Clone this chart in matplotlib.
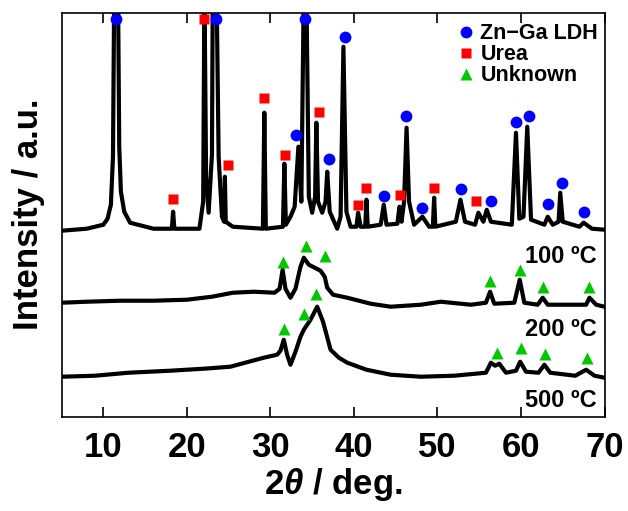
import numpy as np
import matplotlib
matplotlib.use("Agg")
import matplotlib.pyplot as plt

plt.rcParams['font.family'] = ['Liberation Sans', 'DejaVu Sans']
plt.rcParams['font.weight'] = 'bold'
plt.rcParams['mathtext.fontset'] = 'custom'
plt.rcParams['mathtext.it'] = 'Liberation Sans:italic'
plt.rcParams['mathtext.rm'] = 'Liberation Sans:bold'

# XRD patterns (2theta in deg, intensity in a.u. incl. offset)
tt_100 = [5.0, 8.0, 10.0, 10.5, 10.9, 11.15, 11.3, 11.75, 11.9, 12.1, 12.5, 13.2, 16.0, 18.2,
          18.35, 18.5, 21.5, 21.95, 22.1, 22.3, 22.6, 23.0, 23.1, 23.55, 23.8, 24.2, 24.45,
          24.55, 24.65, 25.5, 29.1, 29.27, 29.45, 31.5, 31.67, 31.85, 32.4, 32.9, 33.35, 33.7,
          34.0, 34.3, 34.6, 35.0, 35.35, 35.5, 35.7, 36.2, 36.6, 36.8, 37.1, 38.0, 38.4, 38.74,
          39.1, 39.6, 40.3, 40.5, 40.8, 41.35, 41.5, 41.65, 43.2, 43.57, 43.9, 45.2, 45.45,
          45.7, 46.0, 46.3, 46.6, 47.2, 48.2, 49.0, 49.45, 49.6, 49.75, 52.2, 52.75, 53.3,
          54.5, 54.9, 55.5, 55.9, 56.4, 58.9, 59.4, 59.8, 60.3, 60.75, 61.2, 62.8, 63.2, 63.8,
          64.5, 64.7, 65.0, 67.0, 67.5, 68.5, 70.0]
int_100 = [186, 188, 192, 198, 212, 260, 430, 430, 270, 225, 205, 194, 188, 188,
           205, 188, 188, 215, 430, 240, 204, 262, 430, 430, 260, 200, 195,
           240, 195, 190, 188, 304, 188, 190, 253, 192, 200, 210, 270, 215,
           430, 430, 220, 204, 220, 294, 215, 204, 215, 245, 205, 188, 200, 370,
           205, 190, 190, 204, 190, 190, 217, 190, 192, 212, 192, 193, 210,
           195, 215, 289, 215, 192, 200, 190, 190, 219, 190, 195, 217, 195,
           192, 204, 195, 207, 195, 192, 284, 198, 200, 290, 197, 192, 200, 192,
           195, 224, 195, 190, 194, 188, 187]

tt_200 = [5.0, 8.0, 12.0, 16.0, 20.0, 23.0, 25.5, 28.0, 30.5, 31.1, 31.46, 31.8, 32.4, 33.0,
          33.6, 34.0, 34.6, 35.3, 36.0, 36.5, 36.8, 37.5, 39.2, 42.0, 44.4, 48.0, 50.4, 54.0,
          55.8, 56.3, 56.8, 59.2, 59.85, 60.4, 62.0, 62.6, 63.2, 67.8, 68.2, 69.0, 70.0]
int_200 = [114, 115, 116, 116, 117, 120, 124, 125, 124, 128, 147, 128, 119, 128,
           150, 159, 152, 149, 146, 140, 129, 122, 119, 113, 110, 112, 115, 112,
           114, 125, 113, 114, 137, 114, 112, 119, 112, 112, 119, 112, 110]

tt_500 = [5.0, 9.0, 13.0, 18.0, 22.0, 25.2, 29.2, 30.8, 31.2, 31.6, 32.0, 32.4, 33.0, 33.6,
          34.0, 34.8, 35.6, 36.3, 37.2, 38.2, 39.2, 41.5, 44.4, 48.0, 52.0, 55.8, 56.4, 56.9,
          57.4, 58.2, 59.4, 59.9, 60.6, 62.1, 62.8, 63.5, 66.5, 67.8, 68.8, 70.0]
int_500 = [40, 41, 44, 46, 48, 50, 59, 62, 66, 77, 62, 52, 65, 80,
           87, 97, 110, 95, 67, 59, 54, 47, 42, 40, 41, 44, 54, 51,
           53, 44, 46, 55, 45, 44, 52, 44, 41, 47, 41, 39]

# peak assignments
ldh_x = [11.52, 23.52, 34.1, 33.07, 37.0, 38.87, 43.57, 46.2, 48.2, 52.8, 56.4, 59.4, 60.96,
         63.2, 64.9, 67.6]
ldh_y = [398, 398, 398, 282, 258, 380, 221, 301, 209, 228, 216, 295, 301, 213, 234, 205]
urea_x = [18.36, 22.07, 24.95, 29.27, 31.7, 35.86, 40.5, 41.5, 45.46, 49.6, 54.65]
urea_y = [218, 398, 252, 319, 262, 305, 212, 229, 222, 229, 216]
unk_x = [31.46, 34.27, 36.5, 56.3, 59.85, 62.6, 68.2,
         31.67, 34.06, 35.5, 57.1, 59.97, 62.85, 67.96]
unk_y = [155, 171, 161, 136, 147, 130, 130,
         88, 103, 123, 64, 69, 63, 59]

temps = ['100 ºC', '200 ºC', '500 ºC']

fig = plt.figure(figsize=(6.28, 5.11), dpi=100)
ax = fig.add_axes([0.0981, 0.1845, 0.8645, 0.7906])

for tt, yy in [(tt_100, int_100), (tt_200, int_200), (tt_500, int_500)]:
    ax.plot(tt, yy, color='black', lw=3.0, solid_joinstyle='round')

ax.plot(ldh_x, ldh_y, 'o', color='#0000ff', ms=8.5, mec='none', label='Zn\u2212Ga LDH', clip_on=False)
ax.plot(urea_x, urea_y, 's', color='#ff0000', ms=7.2, mec='none', label='Urea')
ax.plot(unk_x, unk_y, '^', color='#00c800', ms=8.5, mec='none', label='Unknown')

for lab, yc in zip(temps, [160.7, 87.7, 16.7]):
    ax.text(69.07, yc, lab, ha='right', va='center', fontsize=17, fontweight='bold')

ax.set_xlim(5, 70)
ax.set_ylim(0, 404)
ax.set_xticks([10, 20, 30, 40, 50, 60, 70])
ax.set_yticks([])
ax.tick_params(axis='x', direction='in', top=True, length=7.2, width=1.2, labelsize=25, pad=10)
for sp in ax.spines.values():
    sp.set_linewidth(1.2)

ax.set_xlabel(r'2$\theta$ / deg.', fontsize=25, fontweight='bold', labelpad=2)
ax.set_ylabel('Intensity / a.u.', fontsize=25, fontweight='bold', labelpad=12)

ax.legend(loc='upper right', bbox_to_anchor=(1.008, 1.0), frameon=False,
          handlelength=0.7, handletextpad=0.3, labelspacing=0.0, borderaxespad=0.1,
          prop={'weight': 'bold', 'size': 15.5})

fig.savefig('out.png', dpi=100)
